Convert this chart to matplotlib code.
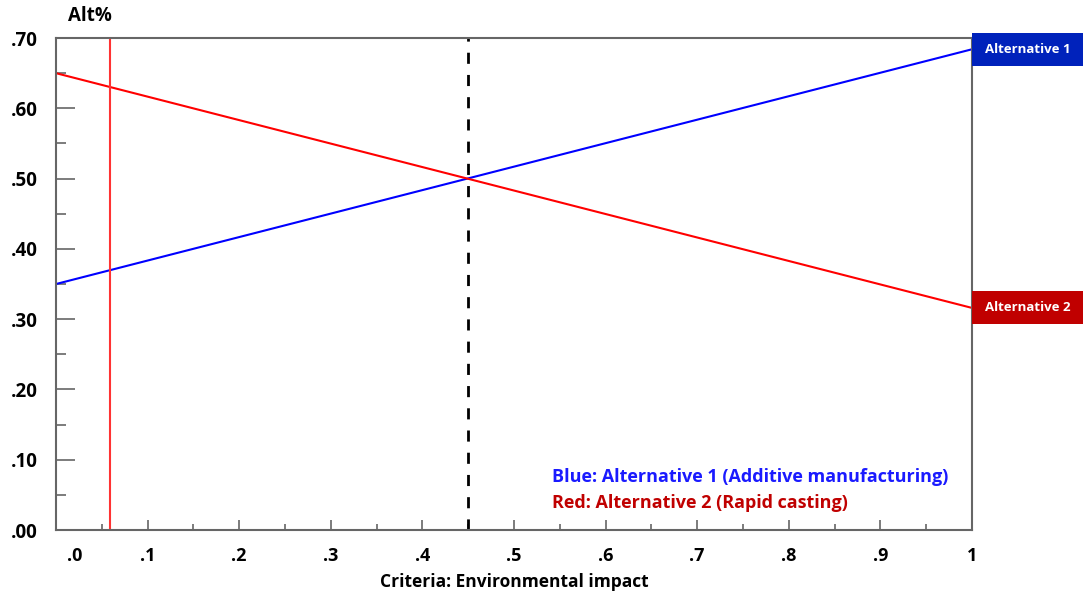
import matplotlib
matplotlib.use("Agg")
import matplotlib.pyplot as plt
import matplotlib.transforms as mtransforms
from matplotlib.patches import Rectangle
import numpy as np

# Sensitivity of alternative priorities to the criterion weight
weight = [0.0, 1.0]
alt1_share = [0.35, 0.684]   # Additive manufacturing
alt2_share = [0.65, 0.316]   # Rapid casting
current_weight = 0.059
crossover_weight = 0.45

x_ticks = [0.0, 0.1, 0.2, 0.3, 0.4, 0.5, 0.6, 0.7, 0.8, 0.9, 1.0]
x_tick_labels = [".0", ".1", ".2", ".3", ".4", ".5", ".6", ".7", ".8", ".9", "1"]
y_ticks = [0.0, 0.1, 0.2, 0.3, 0.4, 0.5, 0.6, 0.7]
y_tick_labels = [".00", ".10", ".20", ".30", ".40", ".50", ".60", ".70"]
series_names = ["Alternative 1", "Alternative 2"]

FONT = ["Open Sans", "DejaVu Sans"]
plt.rcParams["font.family"] = FONT

BLUE = "#0000ff"
RED = "#ff0000"
BOX_BLUE = "#0022bb"
BOX_RED = "#c00000"
SPINE = "#666666"

fig = plt.figure(figsize=(10.83, 5.95), dpi=100)
ax = fig.add_axes([0.0517, 0.1092, 0.8458, 0.8269])

ax.plot(weight, alt1_share, color=BLUE, lw=1.5, solid_capstyle="butt")
ax.plot(weight, alt2_share, color=RED, lw=1.5, solid_capstyle="butt")
ax.axvline(current_weight, color="#ff3333", lw=1.5)
ax.axvline(crossover_weight, color="black", lw=2, dashes=(4, 4))

ax.set_xlim(0, 1)
ax.set_ylim(0, 0.70)

for s in ax.spines.values():
    s.set_color(SPINE)
    s.set_linewidth(1.5)

ax.set_xticks(x_ticks)
ax.set_xticklabels(x_tick_labels, fontsize=13, fontweight="bold")
ax.set_xticks(np.arange(0.05, 1.0, 0.1), minor=True)
ax.set_yticks(y_ticks)
ax.set_yticklabels(y_tick_labels, fontsize=13.5, fontweight="bold")
ax.set_yticks(np.arange(0.05, 0.7, 0.1), minor=True)

ax.tick_params(axis="x", which="major", direction="in", length=7, width=1.2,
               color=SPINE, pad=12)
ax.tick_params(axis="x", which="minor", direction="in", length=4, width=1.2,
               color=SPINE)
ax.tick_params(axis="y", which="major", direction="in", length=14, width=1.2,
               color=SPINE, pad=13)
ax.tick_params(axis="y", which="minor", direction="in", length=7, width=1.2,
               color=SPINE)

# shift the ".0" label right so it clears the ".00" label
lbl0 = ax.get_xticklabels()[0]
lbl0.set_transform(lbl0.get_transform() +
                   mtransforms.ScaledTranslation(19 / 100, 0, fig.dpi_scale_trans))

ax.set_xlabel("Criteria: Environmental impact", fontsize=12.5, fontweight="bold",
              labelpad=6)
fig.text(68 / 1083, 1 - 16 / 595, "Alt%", fontsize=13.5, fontweight="bold",
         ha="left", va="center")

# end-of-line labels
box_w = 111 / (0.8458 * 1083)
box_h = 0.047
trans = mtransforms.blended_transform_factory(ax.transAxes, ax.transData)
for name, vals, col in [(series_names[0], alt1_share, BOX_BLUE),
                        (series_names[1], alt2_share, BOX_RED)]:
    yend = vals[-1]
    ax.add_patch(Rectangle((1.0, yend - box_h / 2), box_w, box_h, transform=trans,
                           facecolor=col, edgecolor="none", clip_on=False, zorder=5))
    ax.text(1.0 + box_w / 2, yend, name, transform=trans, color="white",
            fontsize=9.5, fontweight="bold", ha="center", va="center",
            zorder=6, clip_on=False)

ax.text(0.542, 0.108, "Blue: Alternative 1 (Additive manufacturing)",
        transform=ax.transAxes, color="#1a1aff", fontsize=13, fontweight="bold",
        ha="left", va="center")
ax.text(0.542, 0.055, "Red: Alternative 2 (Rapid casting)",
        transform=ax.transAxes, color="#c00000", fontsize=13, fontweight="bold",
        ha="left", va="center")

fig.savefig("out.png", dpi=100)
